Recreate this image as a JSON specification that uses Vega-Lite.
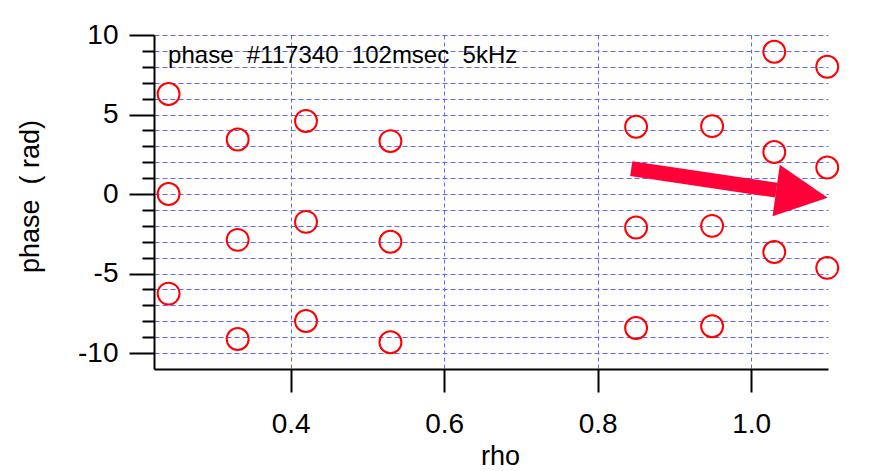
{
  "$schema": "https://vega.github.io/schema/vega-lite/v6.json",
  "width": 674,
  "height": 334,
  "autosize": {"type": "none"},
  "padding": {"left": 154, "top": 35, "right": 61, "bottom": 102},
  "background": "white",
  "config": {
    "view": {"stroke": null},
    "font": "Liberation Sans",
    "axis": {"labelFont": "Liberation Sans", "titleFont": "Liberation Sans", "labelColor": "black", "titleColor": "black", "titleFontWeight": "normal", "domainColor": "black", "tickColor": "black"}
  },
  "datasets": {
    "pts": [
      {"rho": 0.241, "phase": 6.29},
      {"rho": 0.241, "phase": 0.0},
      {"rho": 0.241, "phase": -6.26},
      {"rho": 0.331, "phase": 3.43},
      {"rho": 0.331, "phase": -2.88},
      {"rho": 0.331, "phase": -9.11},
      {"rho": 0.420, "phase": 4.59},
      {"rho": 0.420, "phase": -1.75},
      {"rho": 0.420, "phase": -7.98},
      {"rho": 0.530, "phase": 3.33},
      {"rho": 0.530, "phase": -3.0},
      {"rho": 0.530, "phase": -9.32},
      {"rho": 0.850, "phase": 4.23},
      {"rho": 0.850, "phase": -2.1},
      {"rho": 0.850, "phase": -8.42},
      {"rho": 0.949, "phase": 4.27},
      {"rho": 0.949, "phase": -2.0},
      {"rho": 0.949, "phase": -8.31},
      {"rho": 1.030, "phase": 8.95},
      {"rho": 1.030, "phase": 2.64},
      {"rho": 1.030, "phase": -3.64},
      {"rho": 1.099, "phase": 8.0},
      {"rho": 1.099, "phase": 1.67},
      {"rho": 1.099, "phase": -4.64}
    ],
    "shaft": [{"rho": 0.8437, "phase": 1.60, "rho2": 1.0326, "phase2": 0.245}],
    "head": [{"rho": 1.066, "phase": -0.01}],
    "note": [{"rho": 0.2404, "phase": 8.22, "label": "phase\u00a0\u00a0#117340\u00a0\u00a0102msec\u00a0\u00a05kHz"}]
  },
  "encoding": {
    "x": {
      "field": "rho", "type": "quantitative",
      "scale": {"domain": [0.222, 1.1], "nice": false, "zero": false},
      "axis": {
        "title": "rho", "titleFontSize": 27, "titleX": 346, "titleY": 95, "titleBaseline": "alphabetic", "titleAlign": "center",
        "values": [0.4, 0.6, 0.8, 1.0], "format": ".1f",
        "labelFontSize": 28, "labelBaseline": "alphabetic", "labelPadding": 40,
        "tickSize": 23, "tickWidth": 2, "domainWidth": 2,
        "grid": true, "gridColor": "#6464ff", "gridDash": [4, 3], "gridWidth": 1, "gridOpacity": 1
      }
    },
    "y": {
      "field": "phase", "type": "quantitative",
      "scale": {"domain": [-11, 10], "nice": false, "zero": false},
      "axis": {
        "title": "phase\u00a0\u00a0(\u00a0rad)", "titleFontSize": 27, "titleAngle": -90, "titleX": -124, "titleY": 161, "titleBaseline": "middle", "titleAlign": "center",
        "values": [-10, -9, -8, -7, -6, -5, -4, -3, -2, -1, 0, 1, 2, 3, 4, 5, 6, 7, 8, 9, 10],
        "labelExpr": "datum.value % 5 === 0 ? (datum.value < 0 ? '-' + abs(datum.value) : '' + datum.value) : ''",
        "labelFontSize": 28, "labelPadding": 11, "labelBaseline": "middle",
        "tickSize": {"condition": {"test": "datum.value % 5 === 0", "value": 25}, "value": 12},
        "tickWidth": 2, "domainWidth": 2,
        "grid": true, "gridColor": "#6464ff", "gridDash": [5, 3], "gridWidth": 1, "gridOpacity": 1
      }
    }
  },
  "layer": [
    {
      "data": {"name": "pts"},
      "mark": {"type": "point", "shape": "circle", "filled": false, "stroke": "#FF0000", "strokeWidth": 2, "size": 480, "opacity": 1}
    },
    {
      "data": {"name": "shaft"},
      "mark": {"type": "rule", "stroke": "#FF0038", "strokeWidth": 15, "strokeCap": "butt"},
      "encoding": {
        "x2": {"field": "rho2"},
        "y2": {"field": "phase2"}
      }
    },
    {
      "data": {"name": "head"},
      "mark": {"type": "point", "shape": "M-1,-1L1,0L-1,1Z", "filled": true, "fill": "#FF0038", "strokeWidth": 0, "size": 2704, "angle": 8, "opacity": 1}
    },
    {
      "data": {"name": "note"},
      "mark": {"type": "text", "align": "left", "baseline": "alphabetic", "fontSize": 24, "font": "Liberation Sans", "color": "black"},
      "encoding": {
        "text": {"field": "label"}
      }
    }
  ]
}
